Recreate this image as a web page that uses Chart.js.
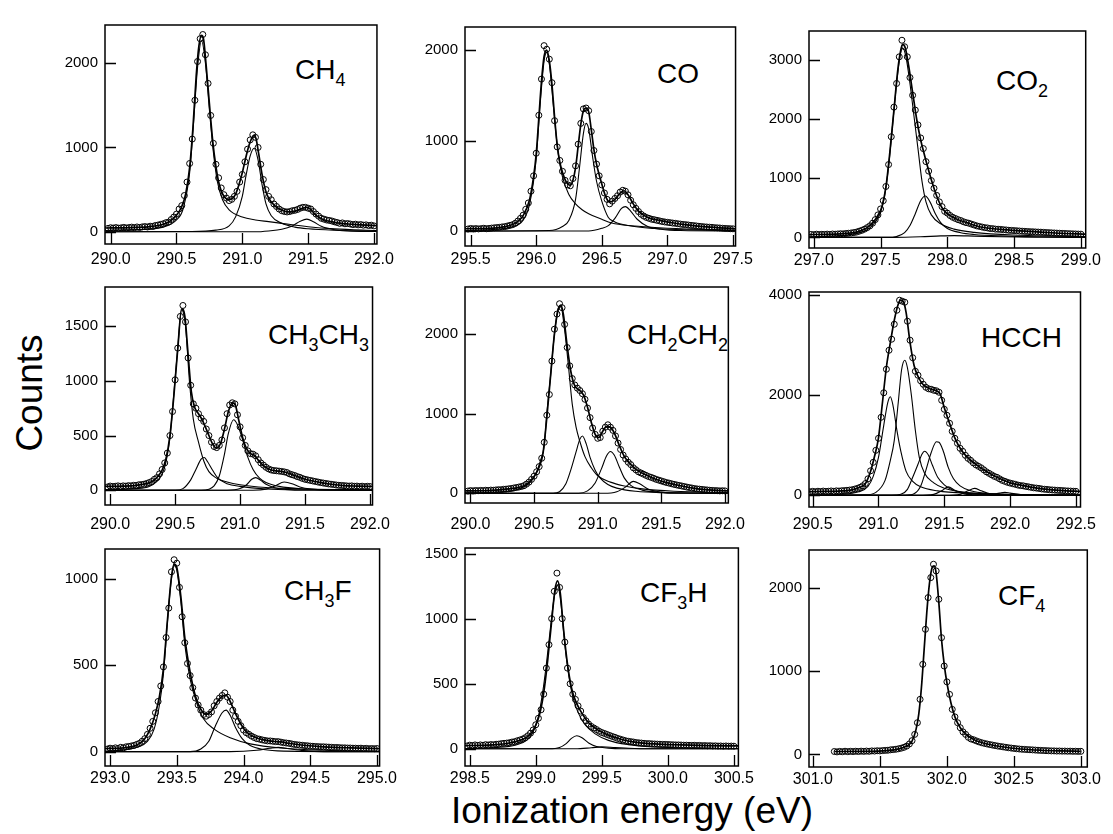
<!DOCTYPE html>
<html>
<head>
<meta charset="utf-8">
<title>C 1s photoelectron spectra</title>
<script src="https://cdn.jsdelivr.net/npm/chart.js@4.4.1/dist/chart.umd.min.js"></script>
<style>
  html, body { margin: 0; padding: 0; background: #fff; }
  #page { position: relative; width: 1113px; height: 834px; overflow: hidden; background: #fff; }
  #page canvas { position: absolute; }
  .mol { position: absolute; font: 28px/1 "Liberation Sans", Arial, Helvetica, sans-serif; color: #000; white-space: nowrap; }
  .mol sub { font-size: 18px; vertical-align: -7px; line-height: 0; }
  .title { position: absolute; font: 37px/1 "Liberation Sans", Arial, Helvetica, sans-serif; color: #000; white-space: nowrap; }
  #ylab { left: 29px; top: 393px; transform: translate(-50%, -50%) rotate(-90deg); }
  #xlab { left: 632px; top: 792px; transform: translateX(-50%); }
</style>
</head>
<body>
<div id="page">
  <div class="mol" style="left:295px;top:56px">CH<sub>4</sub></div>
  <div class="mol" style="left:657px;top:60px">CO</div>
  <div class="mol" style="left:996px;top:67px">CO<sub>2</sub></div>
  <div class="mol" style="left:268px;top:321px">CH<sub>3</sub>CH<sub>3</sub></div>
  <div class="mol" style="left:627px;top:321px">CH<sub>2</sub>CH<sub>2</sub></div>
  <div class="mol" style="left:981px;top:324px">HCCH</div>
  <div class="mol" style="left:284px;top:577px">CH<sub>3</sub>F</div>
  <div class="mol" style="left:640px;top:579px">CF<sub>3</sub>H</div>
  <div class="mol" style="left:998px;top:582px">CF<sub>4</sub></div>
  <div class="title" id="ylab">Counts</div>
  <div class="title" id="xlab">Ionization energy (eV)</div>
</div>
<script>
// measured counts are on a 0.02 eV grid, starting at xxStart
const gridStep = 0.02;

// ---- CH4
const ch4Start = 289.98;
const ch4Counts = [40,48,44,50,43,47,52,45,50,55, 48,57,50,58,62,57,66,63,75,80, 88,95,108,115,145,175,210,270,310,430,
  590,810,1100,1560,2020,2290,2340,2100,1760,1380, 1050,800,640,520,440,400,370,385,420,480, 590,680,830,980,1090,1150,1120,1000,800,620,
  500,420,380,330,300,270,250,240,235,240, 250,255,265,280,290,290,280,270,240,210, 185,160,150,140,135,128,118,110,100,105,
  95,98,92,85,90,82,86,78,82,74, 78,70];
const ch4Fit = [[289.96,45],[290.1,47],[290.2,52],[290.3,62],[290.4,90],[290.45,125],[290.5,195],[290.54,300],[290.57,450],[290.6,760],
  [290.625,1230],[290.65,1850],[290.67,2200],[290.69,2330],[290.705,2290],[290.725,1980],[290.75,1520],[290.775,1080],[290.8,770],[290.825,560],
  [290.85,450],[290.875,395],[290.9,380],[290.925,395],[290.95,450],[290.975,560],[291.0,700],[291.025,870],[291.05,1020],[291.075,1120],
  [291.09,1140],[291.105,1100],[291.125,920],[291.15,680],[291.175,500],[291.2,400],[291.25,305],[291.3,255],[291.35,235],[291.4,245],
  [291.45,275],[291.49,290],[291.52,265],[291.55,210],[291.6,155],[291.7,112],[291.8,92],[291.9,82],[292.02,72]];
const ch4Peaks = [
  [[289.96,15],[290.2,25],[290.4,55],[290.5,140],[290.55,270],[290.6,700],[290.63,1300],[290.66,1950],[290.69,2270],[290.72,2000],[290.75,1450],
   [290.78,950],[290.81,600],[290.85,380],[290.9,260],[291.0,175],[291.1,140],[291.2,120],[291.3,100],[291.5,60],[291.7,35],[292.02,15]],
  [[289.96,0],[290.6,3],[290.8,20],[290.9,70],[290.95,180],[291.0,420],[291.03,680],[291.06,900],[291.09,990],[291.12,850],[291.15,560],
   [291.18,330],[291.22,190],[291.3,100],[291.4,55],[291.5,35],[291.7,18],[292.02,8]],
  [[289.96,0],[291.1,0],[291.2,10],[291.3,30],[291.38,70],[291.44,125],[291.49,150],[291.54,120],[291.6,65],[291.7,25],[291.8,10],[292.02,3]]
];
const ch4XTicks = [290.0, 290.5, 291.0, 291.5, 292.0];
const ch4YTicks = [0, 1000, 2000];
const ch4XRange = [289.957, 292.023];
const ch4YRange = [-145, 2453];

// ---- CO
const coStart = 295.48;
const coCounts = [22,28,24,27,23,26,30,25,28,32, 35,38,40,45,48,55,62,70,85,110, 140,175,240,310,440,610,860,1280,1680,2050,
  2010,1900,1640,1220,930,780,660,560,510,500, 580,720,960,1190,1350,1360,1330,1100,890,740, 610,510,420,350,300,330,360,390,430,450,
  440,400,340,290,250,215,185,165,150,140, 130,125,118,112,105,100,96,92,88,85, 80,76,72,70,66,62,60,56,52,50,
  46,44,42,40,37,35,33,30,28,27, 25,24];
const coFit = [[295.46,25],[295.6,26],[295.7,35],[295.8,60],[295.85,95],[295.9,170],[295.95,350],[295.98,600],[296.0,850],[296.02,1250],
  [296.04,1650],[296.06,1930],[296.08,2000],[296.1,1880],[296.12,1620],[296.14,1260],[296.16,950],[296.18,760],[296.2,650],[296.23,540],
  [296.26,505],[296.28,560],[296.3,700],[296.32,940],[296.34,1180],[296.36,1330],[296.38,1360],[296.4,1320],[296.42,1120],[296.44,900],
  [296.46,740],[296.5,520],[296.53,380],[296.56,320],[296.6,350],[296.64,420],[296.67,445],[296.7,400],[296.74,300],[296.78,220],
  [296.85,150],[296.95,115],[297.05,88],[297.15,68],[297.3,45],[297.52,25]];
const coPeaks = [
  [[295.46,5],[295.7,20],[295.8,40],[295.9,120],[295.95,300],[296.0,800],[296.03,1400],[296.06,1880],[296.08,1975],[296.1,1850],[296.13,1400],
   [296.16,950],[296.2,600],[296.25,400],[296.3,300],[296.35,235],[296.4,190],[296.5,130],[296.55,100],[296.6,80],[296.8,50],[297.0,30],[297.52,10]],
  [[295.46,0],[296.1,5],[296.2,50],[296.25,120],[296.3,350],[296.33,700],[296.36,1080],[296.38,1190],[296.4,1130],[296.43,820],[296.46,550],
   [296.5,330],[296.55,150],[296.6,100],[296.7,60],[296.9,28],[297.2,12],[297.52,5]],
  [[295.46,0],[296.4,0],[296.5,30],[296.55,60],[296.6,140],[296.65,250],[296.68,270],[296.72,220],[296.77,130],[296.85,50],[296.95,20],[297.1,5],[297.52,0]]
];
const coXTicks = [295.5, 296.0, 296.5, 297.0, 297.5];
const coYTicks = [0, 1000, 2000];
const coXRange = [295.457, 297.52];
const coYRange = [-166, 2256];

// ---- CO2
const co2Start = 296.98;
const co2Counts = [50,46,54,48,52,50,55,50,57,54, 58,62,60,66,70,75,82,90,105,120, 140,165,195,240,300,380,480,620,860,1230,
  1700,2200,2600,3050,3330,3220,3050,2700,2400,2150, 1900,1680,1500,1280,1120,960,830,710,600,520, 440,410,370,340,320,300,285,265,250,240,
  225,210,195,185,175,165,160,150,148,140, 138,135,130,126,120,118,115,112,108,105, 102,100,96,95,92,90,88,85,82,80,
  77,75,72,70,68,66,64,62,60,58, 56,55];
const co2Fit = [[296.96,48],[297.1,52],[297.2,60],[297.3,80],[297.35,110],[297.4,165],[297.45,270],[297.48,370],[297.51,520],[297.54,850],
  [297.57,1450],[297.6,2150],[297.63,2850],[297.65,3150],[297.665,3260],[297.685,3200],[297.71,2900],[297.74,2450],[297.77,2000],[297.8,1650],
  [297.83,1380],[297.86,1130],[297.89,900],[297.92,700],[297.96,500],[298.0,400],[298.06,320],[298.15,245],[298.25,175],[298.4,135],
  [298.55,110],[298.7,90],[298.85,70],[299.04,55]];
const co2Peaks = [
  [[296.96,10],[297.2,30],[297.3,60],[297.4,130],[297.45,230],[297.5,420],[297.53,700],[297.56,1200],[297.59,1900],[297.62,2600],[297.645,3050],
   [297.665,3200],[297.69,3050],[297.72,2600],[297.75,2050],[297.78,1500],[297.81,950],[297.84,600],[297.88,380],[297.95,230],[298.05,140],
   [298.2,85],[298.5,40],[299.04,15]],
  [[296.96,0],[297.55,0],[297.62,15],[297.68,80],[297.72,200],[297.76,400],[297.8,620],[297.835,700],[297.87,600],[297.91,400],[297.95,250],
   [298.0,150],[298.1,80],[298.2,50],[298.4,25],[298.7,10],[299.04,4]],
  [[296.96,0],[297.6,0],[297.8,10],[297.95,25],[298.05,30],[298.2,22],[298.4,10],[298.7,3],[299.04,0]]
];
const co2XTicks = [297.0, 297.5, 298.0, 298.5, 299.0];
const co2YTicks = [0, 1000, 2000, 3000];
const co2XRange = [296.964, 299.036];
const co2YRange = [-179, 3486];

// ---- CH3CH3
const c2h6Start = 289.98;
const c2h6Counts = [30,38,34,36,40,35,40,37,42,40, 45,44,50,52,55,62,70,80,100,115, 150,190,250,340,500,720,1010,1300,1590,1690,
  1540,1210,960,790,750,700,660,630,560,500, 440,400,390,410,460,570,700,780,800,790, 690,580,480,410,360,335,330,315,280,250,
  230,210,195,185,180,178,175,172,168,162, 150,142,135,125,118,108,100,95,90,85, 80,75,70,66,62,58,55,52,48,45,
  44,42,40,38,40,36,38,34,37,33, 36,34];
const c2h6Fit = [[289.96,35],[290.1,38],[290.2,45],[290.28,60],[290.33,85],[290.37,130],[290.4,185],[290.43,290],[290.46,500],[290.49,860],
  [290.52,1290],[290.55,1660],[290.575,1590],[290.6,1240],[290.625,900],[290.65,760],[290.68,700],[290.71,640],[290.75,530],[290.79,420],
  [290.82,385],[290.85,430],[290.88,560],[290.91,720],[290.94,800],[290.96,790],[290.99,640],[291.02,480],[291.05,380],[291.08,335],
  [291.11,320],[291.14,275],[291.18,225],[291.24,185],[291.3,175],[291.35,165],[291.42,135],[291.5,100],[291.6,75],[291.7,55],
  [291.8,42],[291.9,38],[292.02,35]];
const c2h6Peaks = [
  [[289.96,5],[290.2,15],[290.3,35],[290.36,80],[290.4,150],[290.43,260],[290.46,480],[290.49,880],[290.52,1300],[290.55,1650],[290.58,1500],
   [290.61,1000],[290.64,650],[290.68,440],[290.72,270],[290.76,170],[290.82,110],[290.9,75],[291.0,50],[291.2,25],[291.5,12],[292.02,5]],
  [[289.96,0],[290.5,0],[290.56,15],[290.62,95],[290.66,190],[290.7,285],[290.725,300],[290.75,260],[290.79,180],[290.83,110],[290.9,60],
   [291.0,35],[291.2,12],[291.5,4],[292.02,0]],
  [[289.96,0],[290.7,0],[290.76,10],[290.8,40],[290.84,130],[290.88,330],[290.91,520],[290.95,645],[290.98,600],[291.01,500],[291.06,300],
   [291.1,190],[291.15,110],[291.2,70],[291.3,35],[291.5,12],[291.7,5],[292.02,0]],
  [[289.96,0],[290.9,0],[291.0,15],[291.05,50],[291.09,100],[291.12,115],[291.16,90],[291.2,55],[291.26,25],[291.35,8],[291.5,0],[292.02,0]],
  [[289.96,0],[291.1,0],[291.2,10],[291.27,40],[291.34,75],[291.4,60],[291.46,30],[291.55,10],[291.7,0],[292.02,0]]
];
const c2h6XTicks = [290.0, 290.5, 291.0, 291.5, 292.0];
const c2h6YTicks = [0, 500, 1000, 1500];
const c2h6XRange = [289.96, 292.02];
const c2h6YRange = [-135, 1859];

// ---- CH2CH2
const c2h4Start = 289.98;
const c2h4Counts = [28,34,30,35,32,36,33,38,35,40, 38,42,45,44,50,52,56,60,66,72, 78,85,95,115,140,175,215,270,335,440,
  640,980,1240,1660,2060,2250,2380,2330,2120,1830, 1600,1440,1360,1320,1290,1250,1180,1070,950,820, 740,690,700,780,830,860,830,790,720,630,
  550,480,430,390,360,320,295,270,255,240, 225,210,200,188,175,165,155,145,135,128, 120,112,105,98,92,85,78,72,66,60,
  55,52,48,45,42,38,36,34,33,30, 32,30];
const c2h4Fit = [[289.96,30],[290.1,32],[290.2,40],[290.3,55],[290.38,75],[290.44,110],[290.5,210],[290.54,330],[290.57,500],[290.6,950],
  [290.63,1480],[290.66,2000],[290.69,2310],[290.71,2360],[290.73,2250],[290.76,1850],[290.79,1520],[290.82,1350],[290.86,1290],[290.89,1230],
  [290.92,1080],[290.95,890],[290.98,740],[291.01,700],[291.04,780],[291.07,840],[291.1,830],[291.13,760],[291.17,600],[291.21,460],
  [291.25,380],[291.3,300],[291.38,230],[291.45,180],[291.55,130],[291.65,95],[291.75,65],[291.85,45],[292.03,30]];
const c2h4Peaks = [
  [[289.96,5],[290.2,15],[290.35,40],[290.45,110],[290.5,200],[290.55,410],[290.58,600],[290.6,1000],[290.63,1480],[290.66,2000],[290.69,2320],
   [290.71,2340],[290.74,2050],[290.77,1600],[290.8,1120],[290.83,830],[290.86,650],[290.9,460],[290.95,320],[291.0,220],[291.1,140],
   [291.2,95],[291.35,55],[291.6,25],[292.03,8]],
  [[289.96,0],[290.65,0],[290.7,20],[290.75,120],[290.79,300],[290.83,520],[290.86,680],[290.88,720],[290.91,620],[290.94,450],[290.98,290],
   [291.02,190],[291.08,110],[291.15,65],[291.3,25],[291.5,8],[292.03,0]],
  [[289.96,0],[290.85,0],[290.92,30],[290.98,130],[291.03,310],[291.07,470],[291.1,525],[291.13,480],[291.17,330],[291.21,190],[291.26,100],
   [291.35,40],[291.5,12],[291.7,3],[292.03,0]],
  [[289.96,0],[291.05,0],[291.15,20],[291.22,80],[291.28,150],[291.33,120],[291.4,50],[291.5,15],[291.6,3],[292.03,0]]
];
const c2h4XTicks = [290.0, 290.5, 291.0, 291.5, 292.0];
const c2h4YTicks = [0, 1000, 2000];
const c2h4XRange = [289.957, 292.027];
const c2h4YRange = [-122, 2590];

// ---- HCCH
const c2h2Start = 290.48;
const c2h2Counts = [70,80,72,82,75,85,78,82,88,80, 90,86,92,95,100,105,112,125,140,160, 190,235,330,490,660,900,1140,1560,2050,2520,
  2900,3120,3420,3700,3900,3880,3860,3480,3100,2750, 2480,2400,2290,2220,2160,2130,2120,2100,2090,2060, 1900,1720,1600,1440,1280,1140,1040,940,880,800,
  740,700,650,610,580,550,510,470,440,410, 380,360,330,300,280,260,245,232,220,205, 195,190,178,170,160,150,145,138,128,122,
  118,112,108,104,100,98,95,90,88,85, 82,80];
const c2h2Fit = [[290.47,75],[290.6,78],[290.7,85],[290.8,110],[290.86,160],[290.9,230],[290.94,480],[290.97,780],[291.0,1150],[291.03,1850],
  [291.06,2560],[291.09,3050],[291.12,3500],[291.15,3820],[291.17,3900],[291.19,3870],[291.21,3650],[291.24,3050],[291.27,2600],[291.3,2380],
  [291.34,2210],[291.39,2130],[291.44,2090],[291.47,2020],[291.5,1750],[291.54,1440],[291.58,1150],[291.63,900],[291.68,750],[291.75,600],
  [291.83,460],[291.9,360],[292.0,250],[292.1,195],[292.2,145],[292.3,115],[292.4,95],[292.535,80]];
const c2h2Peaks = [
  [[290.47,5],[290.7,20],[290.85,70],[290.92,180],[290.96,380],[291.0,760],[291.04,1400],[291.07,1850],[291.09,1970],[291.11,1800],[291.14,1300],
   [291.17,880],[291.21,480],[291.26,280],[291.32,170],[291.45,90],[291.7,40],[292.0,18],[292.535,5]],
  [[290.47,0],[290.9,10],[290.98,60],[291.05,300],[291.09,700],[291.12,1100],[291.15,1850],[291.175,2500],[291.2,2700],[291.22,2550],[291.25,2000],
   [291.28,1300],[291.31,760],[291.35,440],[291.42,250],[291.5,140],[291.6,80],[291.8,35],[292.1,15],[292.535,5]],
  [[290.47,0],[291.1,0],[291.17,20],[291.22,120],[291.26,360],[291.3,620],[291.33,820],[291.35,880],[291.38,800],[291.41,600],[291.45,360],
   [291.5,210],[291.56,110],[291.65,50],[291.8,15],[292.535,0]],
  [[290.47,0],[291.2,0],[291.27,30],[291.32,180],[291.36,500],[291.4,850],[291.44,1070],[291.46,1060],[291.49,900],[291.53,560],[291.57,330],
   [291.62,190],[291.7,90],[291.85,30],[292.0,10],[292.535,0]],
  [[290.47,0],[291.3,0],[291.42,20],[291.48,90],[291.53,170],[291.58,100],[291.65,30],[291.75,8],[291.9,0],[292.535,0]],
  [[290.47,0],[291.5,0],[291.62,20],[291.68,90],[291.73,140],[291.78,90],[291.85,30],[291.95,8],[292.1,0],[292.535,0]],
  [[290.47,0],[291.75,0],[291.85,15],[291.92,45],[291.96,60],[292.0,45],[292.08,15],[292.2,0],[292.535,0]]
];
const c2h2XTicks = [290.5, 291.0, 291.5, 292.0, 292.5];
const c2h2YTicks = [0, 2000, 4000];
const c2h2XRange = [290.472, 292.535];
const c2h2YRange = [-233, 4064];

// ---- CH3F
const ch3fStart = 292.98;
const ch3fCounts = [15,20,17,22,18,25,22,28,30,33, 36,42,48,60,75,100,135,175,225,290, 380,490,660,830,1040,1110,1090,950,780,630,
  510,440,370,310,270,240,215,205,215,230, 265,290,310,325,340,315,290,240,205,175, 150,125,110,100,90,82,75,72,68,65,
  62,62,60,58,58,55,52,50,48,45, 42,40,38,37,35,34,32,31,30,29, 28,28,27,26,25,24,24,23,22,22,
  21,21,20,20,19,20,18,19,17,18, 17,18];
const ch3fFit = [[292.96,18],[293.1,22],[293.2,38],[293.26,75],[293.3,130],[293.34,220],[293.37,320],[293.4,480],[293.43,760],[293.46,1010],
  [293.48,1085],[293.5,1065],[293.53,900],[293.56,660],[293.6,460],[293.64,320],[293.68,245],[293.72,215],[293.76,235],[293.8,285],
  [293.84,320],[293.87,325],[293.9,290],[293.94,220],[293.98,160],[294.02,115],[294.08,85],[294.15,68],[294.22,60],[294.28,56],
  [294.35,47],[294.45,37],[294.6,28],[294.8,22],[295.02,18]];
const ch3fPeaks = [
  [[292.96,3],[293.1,10],[293.2,25],[293.28,60],[293.33,130],[293.37,270],[293.4,450],[293.43,750],[293.46,1000],[293.48,1075],[293.5,1050],
   [293.53,870],[293.56,620],[293.6,420],[293.65,280],[293.7,190],[293.78,130],[293.9,80],[294.05,45],[294.3,20],[294.6,8],[295.02,2]],
  [[292.96,0],[293.6,0],[293.68,15],[293.74,60],[293.79,150],[293.84,225],[293.87,240],[293.9,210],[293.94,140],[293.99,75],[294.05,35],
   [294.15,12],[294.3,3],[295.02,0]],
  [[292.96,0],[293.9,0],[294.1,8],[294.2,20],[294.26,25],[294.33,18],[294.45,6],[294.6,0],[295.02,0]]
];
const ch3fXTicks = [293.0, 293.5, 294.0, 294.5, 295.0];
const ch3fYTicks = [0, 500, 1000];
const ch3fXRange = [292.962, 295.02];
const ch3fYRange = [-83, 1172];

// ---- CF3H
const chf3Start = 298.48;
const chf3Counts = [22,28,25,30,26,30,27,32,29,33, 31,35,36,40,42,44,47,52,55,62, 68,75,85,100,120,145,185,235,300,420,
  620,800,1000,1210,1350,1240,1000,820,620,500, 420,380,330,290,240,215,190,172,160,148, 135,125,118,110,102,95,88,80,74,68,
  62,58,55,52,48,46,44,42,40,40, 38,37,36,35,34,34,33,32,31,30, 30,29,28,28,27,26,27,25,26,24,
  25,23,24,22,23,21,22,20,22,20, 21,20];
const chf3Fit = [[298.464,25],[298.6,27],[298.7,32],[298.8,45],[298.88,65],[298.94,95],[298.99,160],[299.03,270],[299.06,430],[299.09,680],
  [299.12,980],[299.145,1220],[299.165,1290],[299.185,1200],[299.21,920],[299.24,650],[299.27,470],[299.3,370],[299.34,290],[299.4,200],
  [299.47,145],[299.55,105],[299.65,72],[299.75,52],[299.9,38],[300.1,30],[300.3,25],[300.534,22]];
const chf3Peaks = [
  [[298.464,3],[298.7,10],[298.85,30],[298.93,65],[298.98,130],[299.02,250],[299.05,420],[299.08,650],[299.11,920],[299.14,1170],[299.165,1260],
   [299.19,1120],[299.22,800],[299.25,560],[299.28,400],[299.32,280],[299.37,190],[299.45,115],[299.55,65],[299.7,32],[299.9,14],[300.2,5],[300.534,2]],
  [[298.464,0],[299.1,0],[299.18,10],[299.23,40],[299.27,80],[299.31,100],[299.35,85],[299.4,45],[299.46,18],[299.55,5],[299.65,0],[300.534,0]],
  [[298.464,0],[299.3,0],[299.42,8],[299.5,15],[299.6,10],[299.75,3],[299.9,0],[300.534,0]]
];
const chf3XTicks = [298.5, 299.0, 299.5, 300.0, 300.5];
const chf3YTicks = [0, 500, 1000, 1500];
const chf3XRange = [298.464, 300.534];
const chf3YRange = [-132, 1543];

// ---- CF4
const cf4Start = 301.16;
const cf4Counts = [35,30,36,32,38,33,37,34,38,35, 39,36,40,37,42,40,44,42,46,48, 50,55,58,62,68,75,85,100,125,165,
  240,380,660,1080,1500,1880,2120,2280,2200,1860, 1400,1060,870,720,540,450,380,320,270,240, 205,185,175,162,150,140,132,125,118,112,
  106,100,95,90,85,80,76,72,68,65, 62,60,58,56,54,52,50,48,47,45, 44,42,42,40,41,39,40,38,39,37,
  38,36,37];
const cf4Fit = [[301.16,35],[301.4,36],[301.55,45],[301.65,70],[301.7,100],[301.74,160],[301.77,300],[301.79,480],[301.81,800],[301.83,1250],
  [301.85,1700],[301.87,2050],[301.89,2240],[301.905,2260],[301.92,2170],[301.94,1820],[301.96,1380],[301.98,1080],[302.0,860],[302.03,620],
  [302.06,450],[302.1,320],[302.15,230],[302.2,180],[302.3,125],[302.4,95],[302.55,65],[302.7,50],[302.85,42],[303.0,37]];
const cf4Peaks = [];
const cf4XTicks = [301.0, 301.5, 302.0, 302.5, 303.0];
const cf4YTicks = [0, 1000, 2000];
const cf4XRange = [300.971, 303.048];
const cf4YRange = [-151, 2451];

// panel frames in page pixels: [left, top, right, bottom]
const panels = [
  { start: ch4Start, counts: ch4Counts, fit: ch4Fit, peaks: ch4Peaks, xt: ch4XTicks, yt: ch4YTicks, xr: ch4XRange, yr: ch4YRange, frame: [105, 11, 396, 244], pad: 6 },
  { start: coStart, counts: coCounts, fit: coFit, peaks: coPeaks, xt: coXTicks, yt: coYTicks, xr: coXRange, yr: coYRange, frame: [465, 13, 753, 246], pad: 4 },
  { start: co2Start, counts: co2Counts, fit: co2Fit, peaks: co2Peaks, xt: co2XTicks, yt: co2YTicks, xr: co2XRange, yr: co2YRange, frame: [809, 17, 1100, 248], pad: 3 },
  { start: c2h6Start, counts: c2h6Counts, fit: c2h6Fit, peaks: c2h6Peaks, xt: c2h6XTicks, yt: c2h6YTicks, xr: c2h6XRange, yr: c2h6YRange, frame: [105, 273, 396, 505], pad: 10 },
  { start: c2h4Start, counts: c2h4Counts, fit: c2h4Fit, peaks: c2h4Peaks, xt: c2h4XTicks, yt: c2h4YTicks, xr: c2h4XRange, yr: c2h4YRange, frame: [465, 273, 753, 503], pad: 12 },
  { start: c2h2Start, counts: c2h2Counts, fit: c2h2Fit, peaks: c2h2Peaks, xt: c2h2XTicks, yt: c2h2YTicks, xr: c2h2XRange, yr: c2h2YRange, frame: [809, 278, 1100, 507], pad: 8 },
  { start: ch3fStart, counts: ch3fCounts, fit: ch3fFit, peaks: ch3fPeaks, xt: ch3fXTicks, yt: ch3fYTicks, xr: ch3fXRange, yr: ch3fYRange, frame: [105, 535, 396, 766], pad: 3 },
  { start: chf3Start, counts: chf3Counts, fit: chf3Fit, peaks: chf3Peaks, xt: chf3XTicks, yt: chf3YTicks, xr: chf3XRange, yr: chf3YRange, frame: [465, 534, 753, 766], pad: 3 },
  { start: cf4Start, counts: cf4Counts, fit: cf4Fit, peaks: cf4Peaks, xt: cf4XTicks, yt: cf4YTicks, xr: cf4XRange, yr: cf4YRange, frame: [809, 536, 1100, 767], pad: 3 }
];

Chart.defaults.font.family = '"Liberation Sans", Arial, Helvetica, sans-serif';
Chart.defaults.color = '#000';

// box round the plot and short ticks pointing inwards
const framePlugin = {
  id: 'frame',
  afterDraw(chart) {
    const { ctx, chartArea: a } = chart;
    const xs = chart.scales.x, ys = chart.scales.y;
    ctx.save();
    ctx.strokeStyle = '#000';
    ctx.lineWidth = 1.5;
    ctx.strokeRect(a.left, a.top, a.right - a.left, a.bottom - a.top);
    ctx.lineWidth = 1.3;
    ctx.beginPath();
    xs.ticks.forEach(t => {
      const px = Math.round(xs.getPixelForValue(t.value)) + 0.5;
      ctx.moveTo(px, a.bottom);
      ctx.lineTo(px, a.bottom - 11);
    });
    ys.ticks.forEach(t => {
      const py = Math.round(ys.getPixelForValue(t.value)) + 0.5;
      ctx.moveTo(a.left, py);
      ctx.lineTo(a.left + 11, py);
    });
    ctx.stroke();
    ctx.restore();
  }
};

const page = document.getElementById('page');
const ML = 70, MT = 2, MR = 4, MB = 40;

function toXY(arr) {
  return arr.map(p => ({ x: p[0], y: p[1] }));
}

function makePanel(p) {
  const [l, t, r, b] = p.frame;
  const w = r - l + ML + MR, h = b - t + MT + MB;
  const cv = document.createElement('canvas');
  cv.width = w; cv.height = h;
  cv.style.left = (l - ML) + 'px';
  cv.style.top = (t - MT) + 'px';
  cv.style.width = w + 'px';
  cv.style.height = h + 'px';
  page.appendChild(cv);

  const obs = p.counts.map((c, i) => ({ x: +(p.start + i * gridStep).toFixed(3), y: c }));
  const datasets = [
    { data: obs, showLine: false, pointRadius: 3, pointBorderWidth: 1,
      pointBorderColor: '#000', pointBackgroundColor: 'rgba(0,0,0,0)' },
    { data: toXY(p.fit), showLine: true, borderColor: '#000', borderWidth: 1.7,
      pointRadius: 0, cubicInterpolationMode: 'monotone' }
  ];
  p.peaks.forEach(pk => {
    datasets.push({ data: toXY(pk), showLine: true, borderColor: '#000', borderWidth: 1.1,
      pointRadius: 0, cubicInterpolationMode: 'monotone' });
  });

  new Chart(cv, {
    type: 'scatter',
    data: { datasets },
    options: {
      responsive: false,
      animation: false,
      devicePixelRatio: 1,
      events: [],
      layout: { padding: { left: 0, top: MT, right: MR, bottom: 0 } },
      plugins: { legend: { display: false }, tooltip: { enabled: false } },
      scales: {
        x: {
          type: 'linear', min: p.xr[0], max: p.xr[1],
          grid: { display: false, drawTicks: false },
          border: { display: false },
          afterFit: s => { s.height = MB; },
          afterBuildTicks: s => { s.ticks = p.xt.map(v => ({ value: v })); },
          ticks: { padding: p.pad, autoSkip: false, maxRotation: 0, minRotation: 0,
                   font: { size: 16 }, callback: v => Number(v).toFixed(1) }
        },
        y: {
          type: 'linear', min: p.yr[0], max: p.yr[1],
          grid: { display: false, drawTicks: false },
          border: { display: false },
          afterFit: s => { s.width = ML; },
          afterBuildTicks: s => { s.ticks = p.yt.map(v => ({ value: v })); },
          ticks: { padding: 7, autoSkip: false, font: { size: 15 }, callback: v => String(v) }
        }
      }
    },
    plugins: [framePlugin]
  });
}

panels.forEach(makePanel);
</script>
</body>
</html>
